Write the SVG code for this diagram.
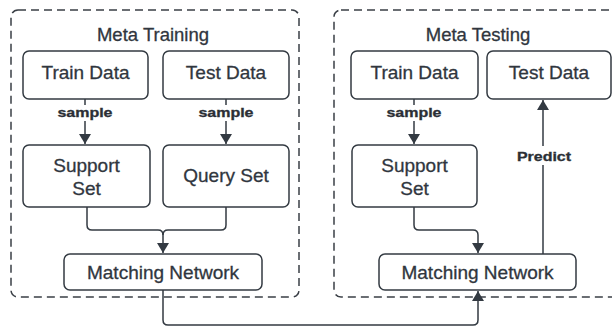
<svg xmlns="http://www.w3.org/2000/svg" width="612" height="329" viewBox="0 0 612 329">
<defs>
<marker id="arr" viewBox="0 0 10 12" refX="10" refY="6" markerWidth="10" markerHeight="12" markerUnits="userSpaceOnUse" orient="auto">
<path d="M0,0 L10,6 L0,12 Z" fill="#333a42"/>
</marker>
<style>
.cont{fill:none;stroke:#3a3f46;stroke-width:1.5;stroke-dasharray:8,5}
.box{fill:#fff;stroke:#333a42;stroke-width:1.5}
.t{font-family:"Liberation Sans",Arial,sans-serif;font-size:19px;fill:#30363e;stroke:#30363e;stroke-width:0.3;text-anchor:middle}
.title{font-family:"Liberation Sans",Arial,sans-serif;font-size:18.5px;fill:#30363e;stroke:#30363e;stroke-width:0.3;text-anchor:middle}
.lbl{font-family:"Liberation Sans",Arial,sans-serif;font-size:12px;font-weight:bold;fill:#2b2f35;stroke:#2b2f35;stroke-width:0.3;text-anchor:middle}
.c{fill:none;stroke:#333a42;stroke-width:1.5}
</style>
</defs>
<rect width="612" height="329" fill="#fff"/>
<g id="meta-training">
<rect class="cont" x="11" y="10" width="288" height="287" rx="7"/>
<text class="title" x="153" y="41">Meta Training</text>
</g>
<g id="meta-testing">
<rect class="cont" x="334" y="10" width="290" height="287" rx="7"/>
<text class="title" x="478" y="41">Meta Testing</text>
</g>
<g id="connectors">
<path class="c" d="M85,99 V144" marker-end="url(#arr)"/>
<path class="c" d="M226,99 V144" marker-end="url(#arr)"/>
<path class="c" d="M414,99 V144" marker-end="url(#arr)"/>
<path class="c" d="M87,207 V225 Q87,230 92,230 H158 Q163,230 163,235 V253" marker-end="url(#arr)"/>
<path class="c" d="M226,207 V225 Q226,230 221,230 H168 Q163,230 163,235"/>
<path class="c" d="M414,207 V225 Q414,230 419,230 H473 Q478,230 478,235 V253" marker-end="url(#arr)"/>
<path class="c" d="M543,254 V100" marker-end="url(#arr)"/>
<path class="c" d="M163,290 V320 Q163,325 168,325 H473 Q478,325 478,320 V291" marker-end="url(#arr)"/>
<rect x="56" y="105" width="58" height="16" fill="#fff"/>
<text class="lbl" x="85" y="117" textLength="55" lengthAdjust="spacingAndGlyphs">sample</text>
<rect x="197" y="105" width="58" height="16" fill="#fff"/>
<text class="lbl" x="226" y="117" textLength="55" lengthAdjust="spacingAndGlyphs">sample</text>
<rect x="385" y="105" width="58" height="16" fill="#fff"/>
<text class="lbl" x="414" y="117" textLength="55" lengthAdjust="spacingAndGlyphs">sample</text>
<rect x="514" y="146" width="58" height="19" fill="#fff"/>
<text class="lbl" x="544" y="161" textLength="54" lengthAdjust="spacingAndGlyphs">Predict</text>
</g>
<g id="train-data-1">
<rect class="box" x="23" y="51" width="125" height="48" rx="6"/>
<text class="t" x="85.5" y="79">Train Data</text>
</g>
<g id="test-data-1">
<rect class="box" x="163" y="51" width="126" height="48" rx="6"/>
<text class="t" x="226" y="79">Test Data</text>
</g>
<g id="support-set-1">
<rect class="box" x="23" y="145" width="127" height="62" rx="6"/>
<text class="t" x="86.5" y="172">Support</text>
<text class="t" x="86.5" y="195">Set</text>
</g>
<g id="query-set">
<rect class="box" x="163" y="145" width="126" height="62" rx="6"/>
<text class="t" x="226" y="182">Query Set</text>
</g>
<g id="matching-network-1">
<rect class="box" x="64" y="254" width="198" height="36" rx="6"/>
<text class="t" x="163" y="279">Matching Network</text>
</g>
<g id="train-data-2">
<rect class="box" x="351" y="51" width="127" height="48" rx="6"/>
<text class="t" x="414.5" y="79">Train Data</text>
</g>
<g id="test-data-2">
<rect class="box" x="487" y="51" width="124" height="48" rx="6"/>
<text class="t" x="549" y="79">Test Data</text>
</g>
<g id="support-set-2">
<rect class="box" x="352" y="145" width="125" height="62" rx="6"/>
<text class="t" x="414.5" y="172">Support</text>
<text class="t" x="414.5" y="195">Set</text>
</g>
<g id="matching-network-2">
<rect class="box" x="379" y="254" width="197" height="36" rx="6"/>
<text class="t" x="477.5" y="279">Matching Network</text>
</g>
</svg>
